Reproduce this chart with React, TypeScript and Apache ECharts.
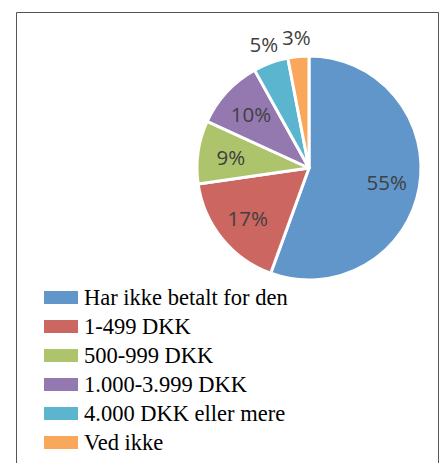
import React, { useEffect, useRef } from "react";
import * as echarts from "echarts";

const categories = [
  "Har ikke betalt for den",
  "1-499 DKK",
  "500-999 DKK",
  "1.000-3.999 DKK",
  "4.000 DKK eller mere",
  "Ved ikke",
];
const values = [55, 17, 9, 10, 5, 3];
const colors = ["#6096CA", "#CC6660", "#AEC46C", "#9479B1", "#5BB5CF", "#F9A85B"];
const outsideLabel = [false, false, false, false, true, true];

export default function App() {
  const ref = useRef<HTMLDivElement>(null);
  useEffect(() => {
    const chart = echarts.init(ref.current!, null, { renderer: "svg" });
    const center = [309, 168];
    const labelStyle = {
      color: "#404040",
      fontFamily: "Open Sans",
      fontSize: 20.5,
    };
    const labelPie = (radius: number, outside: boolean) => ({
      type: "pie",
      center,
      radius: [0, radius],
      startAngle: 90,
      clockwise: true,
      silent: true,
      avoidLabelOverlap: false,
      emphasis: { disabled: true },
      labelLine: { show: false },
      itemStyle: { color: "rgba(0,0,0,0)", borderWidth: 0 },
      data: categories.map((n, i) => ({
        name: n,
        value: values[i],
        label: {
          show: outsideLabel[i] === outside,
          position: "inside",
          formatter: "{c}%",
          ...labelStyle,
        },
      })),
    });
    chart.setOption({
      animation: false,
      color: colors,
      legend: {
        orient: "vertical",
        left: 42,
        top: 286,
        padding: 0,
        icon: "rect",
        itemWidth: 36,
        itemHeight: 15,
        itemGap: 6,
        selectedMode: false,
        textStyle: {
          fontFamily: "Liberation Serif",
          fontSize: 22.5,
          color: "#000",
          lineHeight: 22,
        },
        data: categories,
      },
      graphic: [
        {
          type: "rect",
          silent: true,
          shape: { x: 16.5, y: 12.5, width: 422, height: 480 },
          style: { fill: "none", stroke: "#555", lineWidth: 1 },
        },
      ],
      series: [
        {
          type: "pie",
          center,
          radius: [0, 112],
          startAngle: 90,
          clockwise: true,
          label: { show: false },
          labelLine: { show: false },
          emphasis: { disabled: true },
          itemStyle: { borderColor: "#fff", borderWidth: 3 },
          data: categories.map((n, i) => ({ name: n, value: values[i] })),
        },
        labelPie(152, false),
        labelPie(258, true),
      ],
    });
    return () => chart.dispose();
  }, []);
  return (
    <div
      ref={ref}
      style={{ position: "fixed", left: 0, top: 0, width: 444, height: 463, background: "#fff" }}
    />
  );
}
